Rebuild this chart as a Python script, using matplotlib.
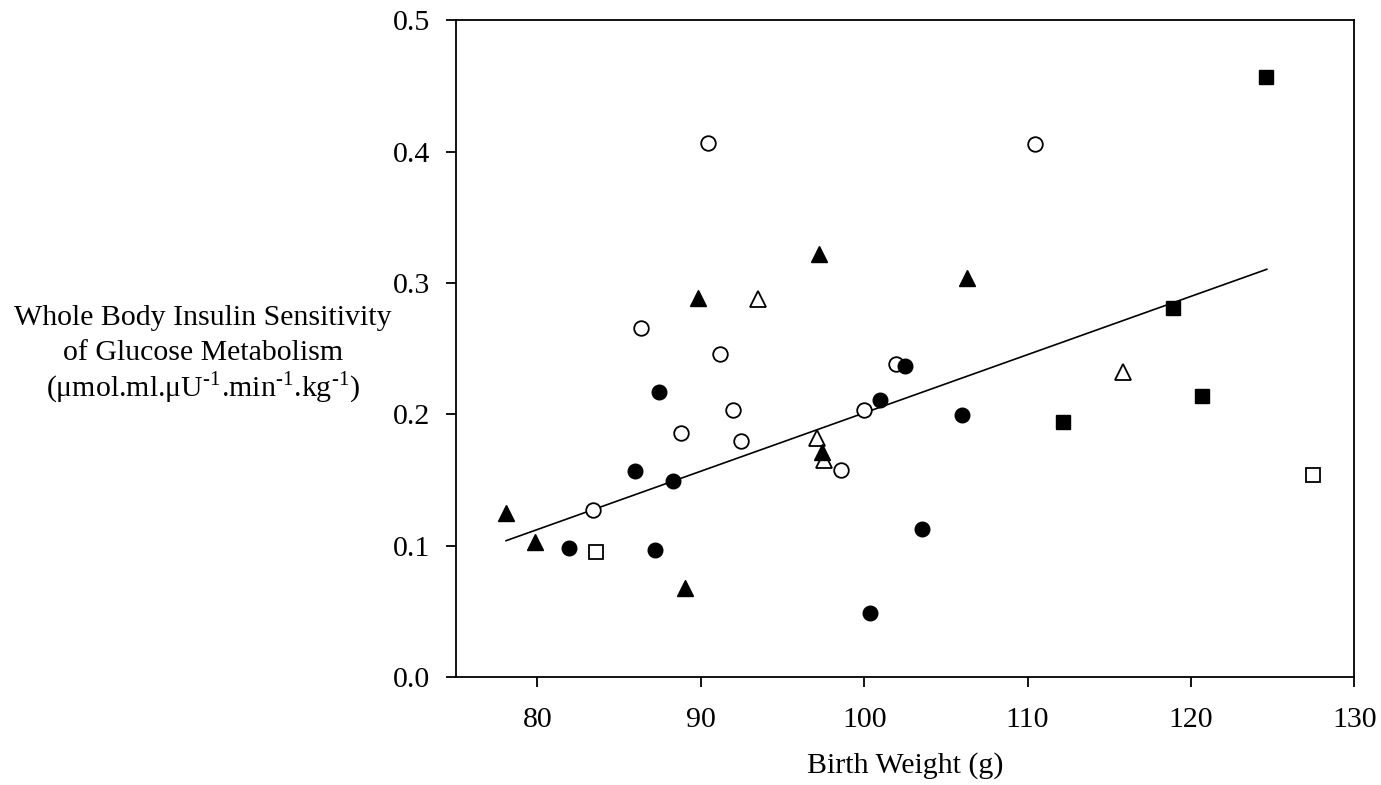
import matplotlib
matplotlib.use("Agg")
import matplotlib.pyplot as plt

plt.rcParams["font.family"] = "Liberation Serif"
plt.rcParams["mathtext.fontset"] = "custom"
plt.rcParams["mathtext.rm"] = "Liberation Serif"

# values
filled_circle_x = [87.43, 86.0, 88.3, 81.96, 87.2, 100.38, 103.56, 100.97, 102.5, 105.99]
filled_circle_y = [0.217, 0.157, 0.149, 0.098, 0.097, 0.049, 0.113, 0.211, 0.237, 0.1995]

open_circle_x = [90.47, 86.37, 91.18, 101.93, 91.98, 99.97, 88.78, 92.49, 98.57, 83.41, 110.46]
open_circle_y = [0.407, 0.266, 0.246, 0.238, 0.203, 0.203, 0.186, 0.180, 0.158, 0.127, 0.406]

filled_tri_x = [97.22, 89.81, 106.28, 97.44, 78.08, 79.84, 89.06]
filled_tri_y = [0.322, 0.289, 0.304, 0.171, 0.125, 0.103, 0.068]

open_tri_x = [93.53, 97.10, 97.55, 115.86]
open_tri_y = [0.288, 0.182, 0.165, 0.232]

filled_sq_x = [124.6, 118.92, 120.7, 112.15]
filled_sq_y = [0.457, 0.281, 0.214, 0.194]

open_sq_x = [83.57, 127.49]
open_sq_y = [0.095, 0.154]

fit_x = [78.08, 124.64]
fit_y = [0.1038, 0.3105]

x_ticks = [80, 90, 100, 110, 120, 130]
y_ticks = [0.0, 0.1, 0.2, 0.3, 0.4, 0.5]

ylabel_lines = ["Whole Body Insulin Sensitivity",
                "of Glucose Metabolism",
                r"(μmol.ml.μU$^{\text{-1}}$.min$^{\text{-1}}$.kg$^{\text{-1}}$)"]

fs = 21.5

fig = plt.figure(figsize=(13.81, 7.85), dpi=100)
ax = fig.add_axes([0.33, 0.1376, 0.6507, 0.8363])

ax.plot(fit_x, fit_y, color="black", lw=1.2, zorder=2)

ax.plot(open_circle_x, open_circle_y, "o", ms=10.5, mfc="white", mec="black", mew=1.3, ls="none", zorder=3)
ax.plot(open_tri_x, open_tri_y, "^", ms=11.5, mfc="white", mec="black", mew=1.3, ls="none", zorder=3)
ax.plot(open_sq_x, open_sq_y, "s", ms=10, mfc="white", mec="black", mew=1.3, ls="none", zorder=3)
ax.plot(filled_circle_x, filled_circle_y, "o", ms=10.5, mfc="black", mec="black", mew=1, ls="none", zorder=4)
ax.plot(filled_tri_x, filled_tri_y, "^", ms=11.5, mfc="black", mec="black", mew=1, ls="none", zorder=4)
ax.plot(filled_sq_x, filled_sq_y, "s", ms=10, mfc="black", mec="black", mew=1, ls="none", zorder=4)

ax.set_xlim(75, 130)
ax.set_ylim(0, 0.5)
ax.set_xticks(x_ticks)
ax.set_yticks(y_ticks)
ax.set_yticklabels([f"{v:.1f}" for v in y_ticks])

for s in ax.spines.values():
    s.set_linewidth(1.3)
ax.tick_params(axis="x", direction="out", length=7.5, width=1.3, pad=14, labelsize=fs,
               top=False)
ax.tick_params(axis="y", direction="out", length=7.5, width=1.3, pad=11, labelsize=fs,
               right=False)

ax.set_xlabel("Birth Weight (g)", fontsize=fs, labelpad=14)

# y label: three horizontal lines left of the axis
for text, base in zip(ylabel_lines, [325, 360, 397]):
    fig.text(203 / 1381, 1 - base / 785, text, fontsize=fs, ha="center", va="baseline")

fig.savefig("out.png", dpi=100)
